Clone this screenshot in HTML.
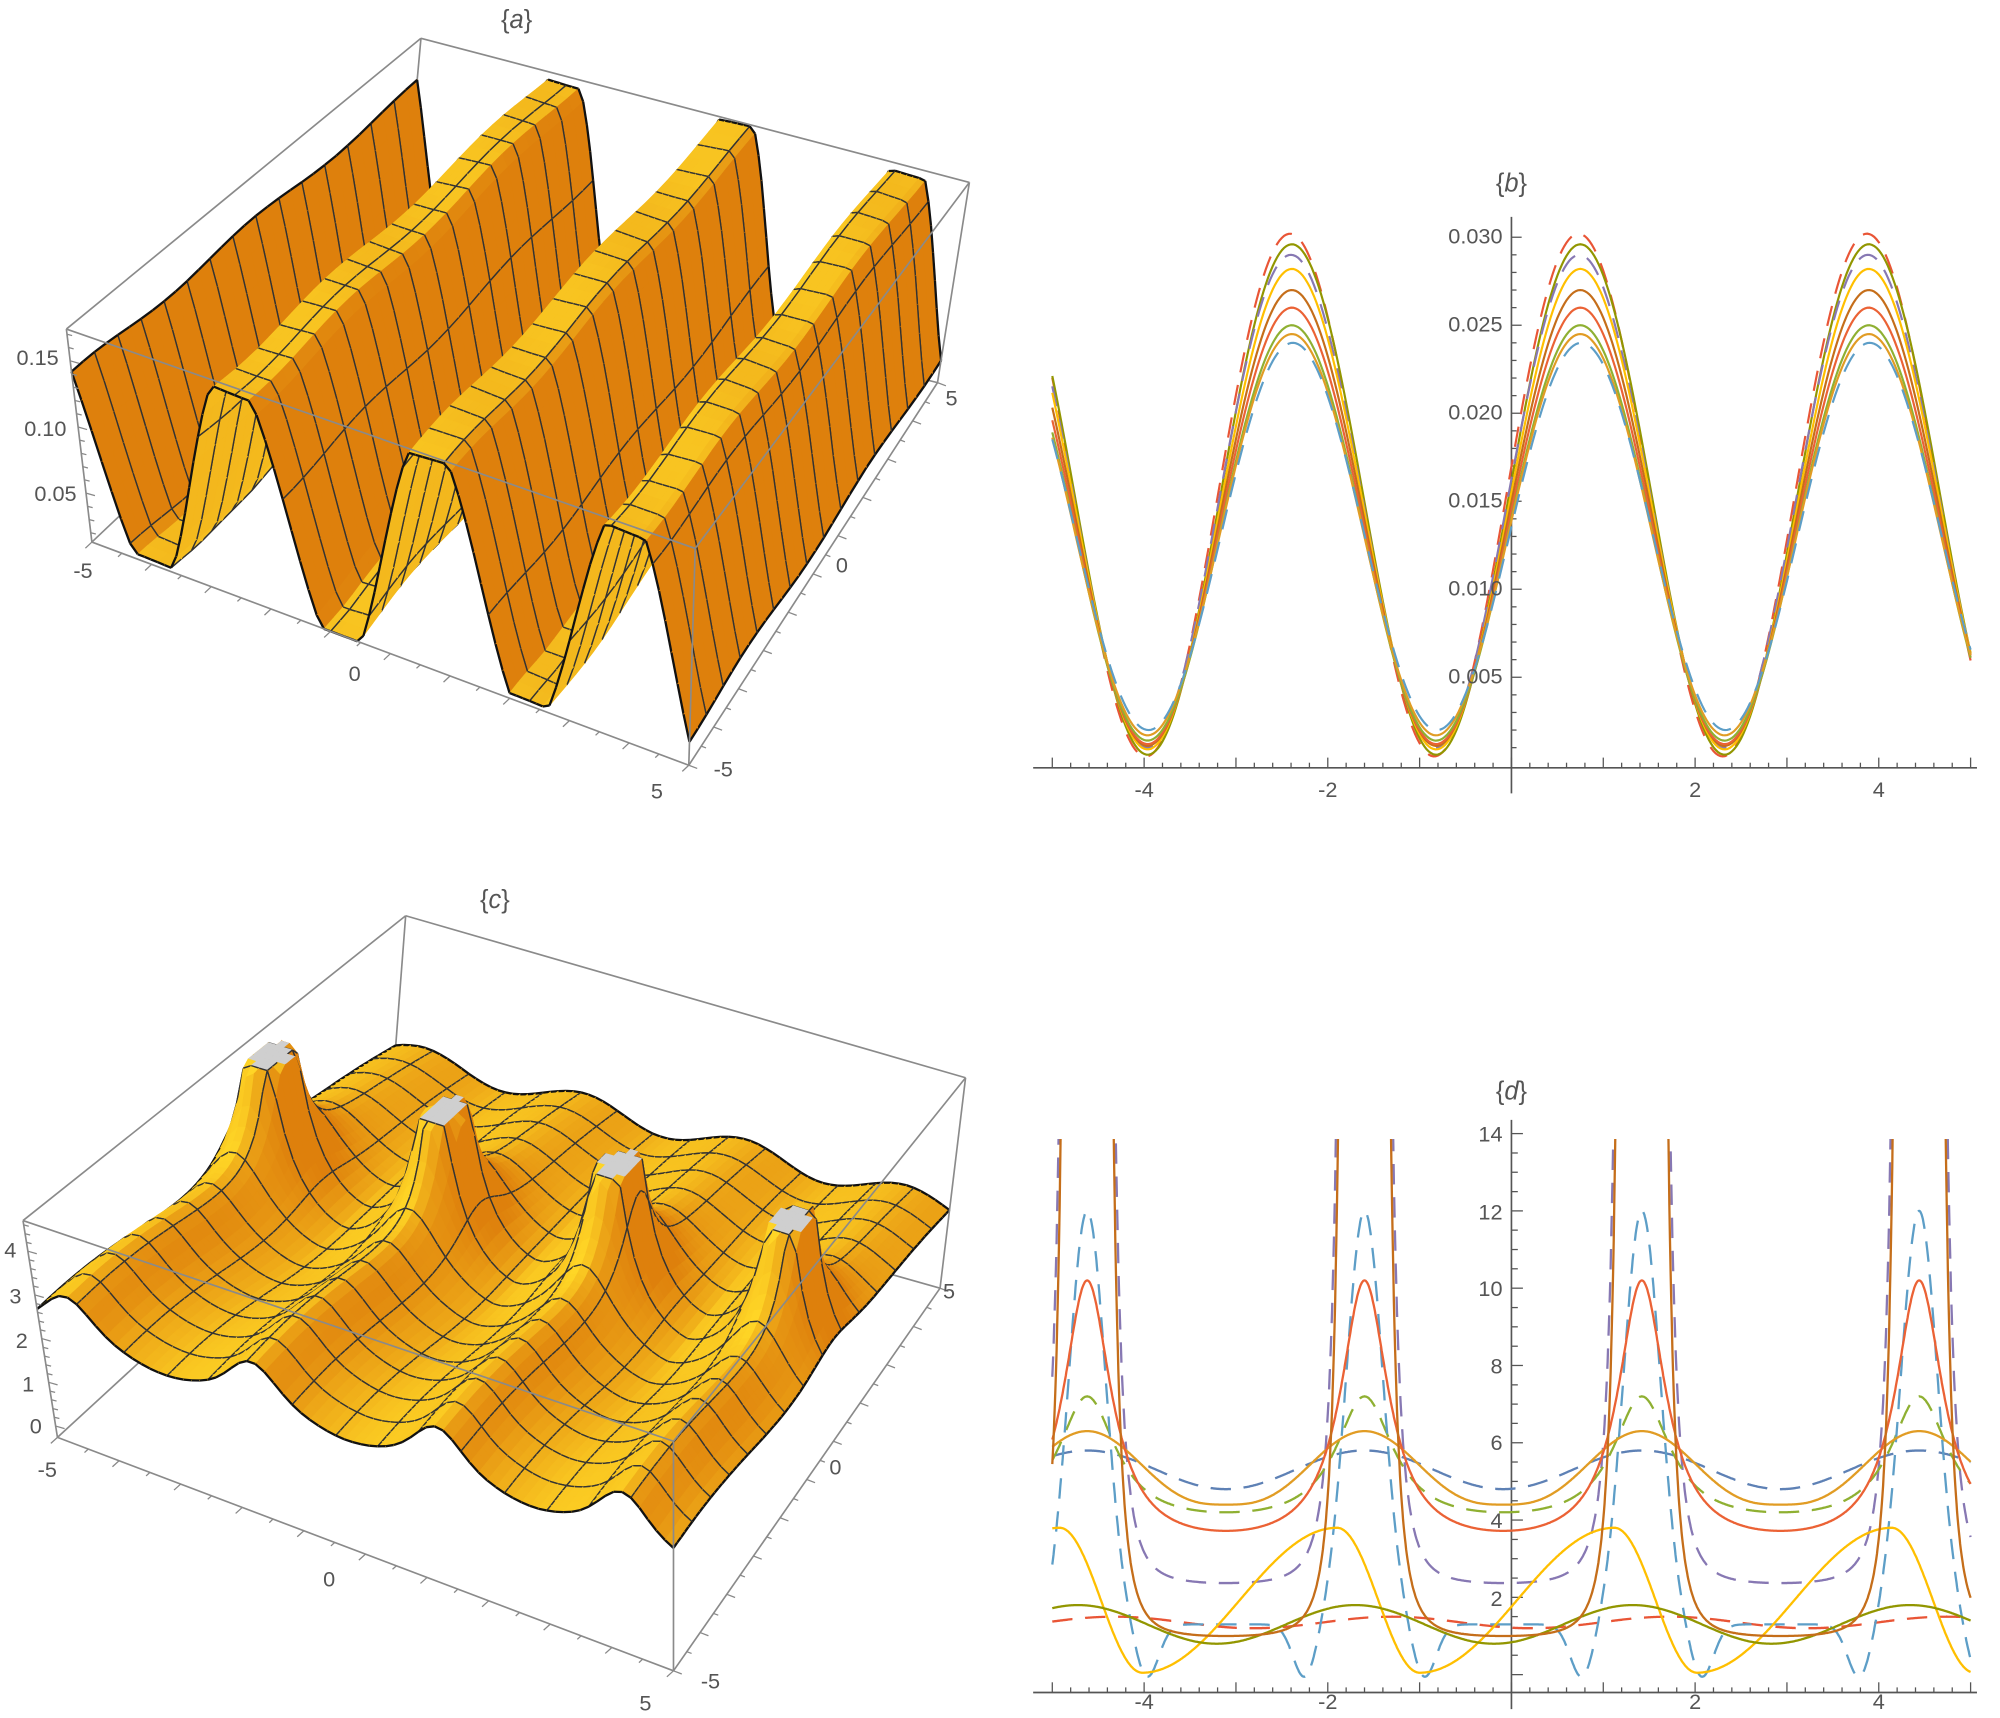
<!DOCTYPE html>
<html><head><meta charset="utf-8"><style>
html,body{margin:0;padding:0;background:#fff;}
svg{display:block;}
text{font-family:"Liberation Sans",sans-serif;fill:#555;}
</style></head><body>
<svg id="s" width="2000" height="1718" viewBox="0 0 1568 1347" xmlns="http://www.w3.org/2000/svg">
<defs>
<clipPath id="cb"><rect x="815" y="150" width="745" height="455"/></clipPath>
<clipPath id="cd"><rect x="815" y="893" width="745" height="442"/></clipPath>
</defs>
<g id="g3d"></g>
<g id="g2d"></g>
<g font-size="17">
<text x="405" y="22" text-anchor="middle" font-size="20">{<tspan font-style="italic">a</tspan>}</text>
<text x="1185" y="150" text-anchor="middle" font-size="20">{<tspan font-style="italic">b</tspan>}</text>
<text x="388" y="712" text-anchor="middle" font-size="20">{<tspan font-style="italic">c</tspan>}</text>
<text x="1185" y="862" text-anchor="middle" font-size="20">{<tspan font-style="italic">d</tspan>}</text>
<text x="46" y="286" text-anchor="end">0.15</text>
<text x="52" y="342" text-anchor="end">0.10</text>
<text x="60" y="393" text-anchor="end">0.05</text>
<text x="65" y="453" text-anchor="middle">-5</text>
<text x="278" y="534" text-anchor="middle">0</text>
<text x="515" y="626" text-anchor="middle">5</text>
<text x="567" y="609" text-anchor="middle">-5</text>
<text x="660" y="449" text-anchor="middle">0</text>
<text x="746" y="318" text-anchor="middle">5</text>
<text x="8" y="986" text-anchor="middle">4</text>
<text x="12" y="1022" text-anchor="middle">3</text>
<text x="17" y="1057" text-anchor="middle">2</text>
<text x="22" y="1091" text-anchor="middle">1</text>
<text x="28" y="1124" text-anchor="middle">0</text>
<text x="37" y="1158" text-anchor="middle">-5</text>
<text x="258" y="1244" text-anchor="middle">0</text>
<text x="506" y="1341" text-anchor="middle">5</text>
<text x="557" y="1324" text-anchor="middle">-5</text>
<text x="655" y="1156" text-anchor="middle">0</text>
<text x="744" y="1018" text-anchor="middle">5</text>
<text x="1178" y="191" text-anchor="end">0.030</text>
<text x="1178" y="260" text-anchor="end">0.025</text>
<text x="1178" y="329" text-anchor="end">0.020</text>
<text x="1178" y="398" text-anchor="end">0.015</text>
<text x="1178" y="467" text-anchor="end">0.010</text>
<text x="1178" y="536" text-anchor="end">0.005</text>
<text x="897" y="625" text-anchor="middle">-4</text>
<text x="1041" y="625" text-anchor="middle">-2</text>
<text x="1329" y="625" text-anchor="middle">2</text>
<text x="1473" y="625" text-anchor="middle">4</text>
<text x="1178" y="895" text-anchor="end">14</text>
<text x="1178" y="956" text-anchor="end">12</text>
<text x="1178" y="1016" text-anchor="end">10</text>
<text x="1178" y="1077" text-anchor="end">8</text>
<text x="1178" y="1137" text-anchor="end">6</text>
<text x="1178" y="1198" text-anchor="end">4</text>
<text x="1178" y="1259" text-anchor="end">2</text>
<text x="897" y="1340" text-anchor="middle">-4</text>
<text x="1041" y="1340" text-anchor="middle">-2</text>
<text x="1329" y="1340" text-anchor="middle">2</text>
<text x="1473" y="1340" text-anchor="middle">4</text>
</g>
</svg>
<script>
(function(){
var out3=[];
function bil(q,u,v){return [q[0][0]*(1-u)*(1-v)+q[1][0]*u*(1-v)+q[2][0]*u*v+q[3][0]*(1-u)*v,
 q[0][1]*(1-u)*(1-v)+q[1][1]*u*(1-v)+q[2][1]*u*v+q[3][1]*(1-u)*v];}
function proj(B,u,v,w){var a=bil(B.b,u,v),b=bil(B.t,u,v);return [a[0]+w*(b[0]-a[0]),a[1]+w*(b[1]-a[1])];}
function f1(n){return n.toFixed(1);}
function line(p,q,c,wd){return '<line x1="'+f1(p[0])+'" y1="'+f1(p[1])+'" x2="'+f1(q[0])+'" y2="'+f1(q[1])+'" stroke="'+(c||'#8a8a8a')+'" stroke-width="'+(wd||1.3)+'"/>';}
function lerp(a,b,t){return a+(b-a)*t;}
function surface(B,fn,zmin,zmax,NU,NV,MU,MV,Hs){
 var W=[],i,j;
 for(i=0;i<=NU;i++){W[i]=[];for(j=0;j<=NV;j++){var x=-5+10*i/NU,y=-5+10*j/NV;var z=fn(x,y);W[i][j]=(z-zmin)/(zmax-zmin);}}
 var P=[];for(i=0;i<=NU;i++){P[i]=[];for(j=0;j<=NV;j++){P[i][j]=proj(B,i/NU,j/NV,Math.min(1,Math.max(0,W[i][j])));}}
 var quads=[];for(i=0;i<NU;i++)for(j=0;j<NV;j++)quads.push([i,j]);
 quads.sort(function(a,b){return ((b[1]/NV-b[0]/NU)-(a[1]/NV-a[0]/NU));});
 var L=[-0.45,-0.55,0.7],ln=Math.hypot(L[0],L[1],L[2]);L=[L[0]/ln,L[1]/ln,L[2]/ln];
 var s='';
 quads.forEach(function(q){
  i=q[0];j=q[1];
  var w00=Math.min(1,W[i][j]),w10=Math.min(1,W[i+1][j]),w11=Math.min(1,W[i+1][j+1]),w01=Math.min(1,W[i][j+1]);
  var du=1/NU,dv=1/NV;
  var ax=du,az=((w10+w11)-(w00+w01))/2*Hs, by=dv, bz=((w01+w11)-(w00+w10))/2*Hs;
  var nx=-az*by, ny=-ax*bz, nz=ax*by; var nl=Math.hypot(nx,ny,nz);nx/=nl;ny/=nl;nz/=nl;
  var d=nx*L[0]+ny*L[1]+nz*L[2]; var t=Math.max(0,Math.min(1,0.55+0.9*(d-0.5)));
  var r=Math.round(lerp(222,255,t)),g=Math.round(lerp(128,214,t)),b=Math.round(lerp(12,38,t));
  var clip=(W[i][j]>=1&&W[i+1][j]>=1&&W[i+1][j+1]>=1&&W[i][j+1]>=1);
  var col=clip?'#cfcfcf':'rgb('+r+','+g+','+b+')';
  var p0=P[i][j],p1=P[i+1][j],p2=P[i+1][j+1],p3=P[i][j+1];
  s+='<path d="M'+f1(p0[0])+','+f1(p0[1])+'L'+f1(p1[0])+','+f1(p1[1])+'L'+f1(p2[0])+','+f1(p2[1])+'L'+f1(p3[0])+','+f1(p3[1])+'Z" fill="'+col+'" stroke="'+col+'" stroke-width="0.6"/>';
  var e='';
  if(!clip){
  if(i%MU==0)e+='M'+f1(p0[0])+','+f1(p0[1])+'L'+f1(p3[0])+','+f1(p3[1]);
  if((i+1)%MU==0)e+='M'+f1(p1[0])+','+f1(p1[1])+'L'+f1(p2[0])+','+f1(p2[1]);
  if(j%MV==0)e+='M'+f1(p0[0])+','+f1(p0[1])+'L'+f1(p1[0])+','+f1(p1[1]);
  if((j+1)%MV==0)e+='M'+f1(p3[0])+','+f1(p3[1])+'L'+f1(p2[0])+','+f1(p2[1]);
  }
  if(e)s+='<path d="'+e+'" stroke="#333" stroke-width="1.1" fill="none"/>';
  var bd='';
  if(i==0)bd+='M'+f1(p0[0])+','+f1(p0[1])+'L'+f1(p3[0])+','+f1(p3[1]);
  if(i==NU-1)bd+='M'+f1(p1[0])+','+f1(p1[1])+'L'+f1(p2[0])+','+f1(p2[1]);
  if(j==0)bd+='M'+f1(p0[0])+','+f1(p0[1])+'L'+f1(p1[0])+','+f1(p1[1]);
  if(j==NV-1)bd+='M'+f1(p3[0])+','+f1(p3[1])+'L'+f1(p2[0])+','+f1(p2[1]);
  if(bd)s+='<path d="'+bd+'" stroke="#111" stroke-width="1.8" fill="none"/>';
 });
 return s;
}
function box(B,zmin,zmax,zmin2,zstep,zmaj,fn,NU,NV,MU,MV,Hs){
 var b=B.b,t=B.t,s='';
 s+=line(b[2],b[3])+line(b[3],b[0])+line(b[3],t[3]);
 s+=surface(B,fn,zmin,zmax,NU,NV,MU,MV,Hs);
 s+=line(t[0],t[1])+line(t[1],t[2])+line(t[2],t[3])+line(t[3],t[0]);
 s+=line(b[0],t[0])+line(b[1],t[1])+line(b[2],t[2])+line(b[0],b[1])+line(b[1],b[2]);
 var k;
 function nrm(v,l){var n=Math.hypot(v[0],v[1]);return [v[0]/n*l,v[1]/n*l];}
 var dx=nrm([b[0][0]-b[3][0],b[0][1]-b[3][1]],1);
 var dy=nrm([b[1][0]-b[0][0],b[1][1]-b[0][1]],1);
 for(k=-5;k<=5;k+=0.5){var u=(k+5)/10,L=(k%1==0)?7:4;var p=bil(b,u,0);s+=line(p,[p[0]+dx[0]*L,p[1]+dx[1]*L],'#888',1);
   var q=bil(b,1,u);s+=line(q,[q[0]+dy[0]*L,q[1]+dy[1]*L],'#888',1);}
 for(k=zmin2;k<=zmax+1e-9;k+=zstep){var w=(k-zmin)/(zmax-zmin);var p=[lerp(b[0][0],t[0][0],w),lerp(b[0][1],t[0][1],w)];
   var maj=Math.abs(k/zmaj-Math.round(k/zmaj))<1e-6;s+=line(p,[p[0]+(maj?7:4),p[1]+(maj?2:1)],'#888',1);}
 return s;
}
var A={b:[[72,425],[540,600],[735,300],[315,195]],t:[[52,258],[545,430],[760,143],[330,30]]};
var C={b:[[45,1127],[528,1310],[737,1010],[305,888]],t:[[18,957],[528,1130],[757,845],[318,718]]};
function fa(x,y){var s=Math.sin(2*x+0.07);s=Math.max(-1,Math.min(1,1.25*s));return 0.092+0.078*s+0.003*Math.sin(1.3*y+x);}
function fc(x,y){var P=2.9;var d=((x+4.5)%P+P)%P;if(d>P/2)d-=P;var y0=0.7,dy=y-y0;
 var ridge=0.6*Math.exp(-d*d/0.2)/(1+Math.exp(dy*1.0));
 var a=0.22,b=0.31;
 var peak=8/(1+(d/a)*(d/a)+(dy/b)*(dy/b));
 return 1.95-0.08*y+0.3*Math.cos(2*Math.PI*d/P)*(0.6+0.4*Math.exp(-0.04*dy*dy))+ridge+peak-0.15*Math.cos(0.9*y);}
out3.push(box(A,0.013,0.174,0.02,0.01,0.05,fa,90,30,6,2,0.35));
out3.push(box(C,-0.26,4.7,0,0.2,1,fc,75,75,5,5,0.45));
document.getElementById('g3d').innerHTML=out3.join('');
function X(x){return 1185+72*x;}
function pth(fn,Y,n){var s='';for(var k=0;k<=n;k++){var x=-5+10*k/n;var v=fn(x);var y=Y(v);if(!isFinite(y))y=-1000;y=Math.max(-1000,Math.min(3000,y));s+=(k?'L':'M')+X(x).toFixed(1)+','+y.toFixed(1);}return s;}
var s2='';
s2+=line([810,602],[1550,602],'#555',1.3)+line([1185,170],[1185,622],'#555',1.3);
var k;
for(k=-5;k<=5.0001;k+=0.2){var maj=Math.abs(k-Math.round(k))<1e-6;s2+=line([X(k),602],[X(k),602-(maj?8:4)],'#555',1);}
function Yb(v){return 600-v*13800;}
for(k=0.001;k<=0.0305;k+=0.001){var maj=Math.abs(k/0.005-Math.round(k/0.005))<1e-6;s2+=line([1185,Yb(k)],[1185+(maj?8:4),Yb(k)],'#555',1);}
var cb=[[0.0302,0.0005,'#E95536',1,0.04],[0.0296,0.0006,'#929600',0,0],[0.029,0.001,'#8778B3',1,0.02],[0.0282,0.0009,'#FFBF00',0,0],
[0.027,0.0011,'#C56E1A',0,0],[0.026,0.0012,'#EB6235',0,0],[0.025,0.0014,'#8FB032',0,0],[0.0245,0.0017,'#E19C24',0,0],[0.024,0.002,'#5D9EC7',1,-0.02]];
s2+='<g clip-path="url(#cb)" fill="none" stroke-width="1.7">';
cb.forEach(function(c){var m=(c[0]+c[1])/2,a=(c[0]-c[1])/2;
 s2+='<path d="'+pth(function(x){return m+a*Math.sin(2*x+0.07+c[4]);},Yb,400)+'" stroke="'+c[2]+'"'+(c[3]?' stroke-dasharray="16 10"':'')+'/>';});
s2+='</g>';
s2+=line([810,1327],[1550,1327],'#555',1.3)+line([1185,878],[1185,1340],'#555',1.3);
for(k=-5;k<=5.0001;k+=0.2){var maj=Math.abs(k-Math.round(k))<1e-6;s2+=line([X(k),1327],[X(k),1327-(maj?8:4)],'#555',1);}
function Yd(v){return 1313-30.3*v;}
for(k=0;k<=14.3;k+=0.5){var maj=Math.abs(k/2-Math.round(k/2))<1e-6;s2+=line([1185,Yd(k)],[1185+(maj?9:5),Yd(k)],'#555',1);}
var P=3.02,c0=-1.6;
function ph(x){return ((x-c0)%P+P)%P;}
function dd(x){var p=ph(x);return p>P/2?p-P:p;}
function S(x){var s=Math.sin(Math.PI*dd(x)/P);return s*s;}
function yel(x){var p=ph(x),g;if(p>=0.6&&p<2.72){var q=(p-0.6)/2.12;g=(1-Math.cos(Math.PI*q))/2;}else{var pp=p>=2.72?p-2.72:p+P-2.72;var q=pp/0.9;g=(1+Math.cos(Math.PI*q))/2;}return 0.05+3.75*g;}
var cd=[
[function(x){return 4.8+1.0*(1-S(x));},'#5E81B5',1],
[function(x){return 1.35+0.15*Math.cos(2*Math.PI*(x-c0-0.3)/P);},'#E95536',1],
[function(x){return 2.25+0.12/Math.pow(S(x)+1e-6,2);},'#8778B3',1],
[function(x){return 3.7+3.5/(1+6*S(x));},'#8FB032',1],
[function(x){var d=dd(x);return 1.3+10.7*Math.exp(-(d/0.28)*(d/0.28))-1.4*Math.exp(-Math.pow((Math.abs(d)-0.65)/0.18,2));},'#5D9EC7',1],
[yel,'#FFBF00',0],
[function(x){return 1.3+0.5*Math.cos(2*Math.PI*(x-c0+0.1)/P);},'#929600',0],
[function(x){return 4.4+1.9*Math.pow(1-S(x),1.5);},'#E19C24',0],
[function(x){return 3.0+7.2/(1+9*S(x));},'#EB6235',0],
[function(x){return 0.9+0.1/Math.pow(S(x)+1e-6,2);},'#C56E1A',0]
];
s2+='<g clip-path="url(#cd)" fill="none" stroke-width="1.8">';
cd.forEach(function(c){s2+='<path d="'+pth(c[0],Yd,1500)+'" stroke="'+c[1]+'"'+(c[2]?' stroke-dasharray="16 10"':'')+'/>';});
s2+='</g>';
document.getElementById('g2d').innerHTML=s2;
})();
</script>
</body></html>
